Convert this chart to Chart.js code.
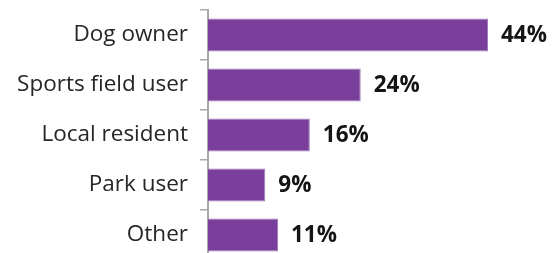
<!DOCTYPE html>
<html lang="en">
<head>
    <meta charset="UTF-8">
    <title>Who uses the park</title>
    <script src="https://cdn.jsdelivr.net/npm/chart.js"></script>
    <style>
        html, body { margin: 0; padding: 0; background: #fff; overflow: hidden; }
        .chart-box { position: relative; width: 559px; height: 263px; }
    </style>
</head>
<body>
    <div class="chart-box">
        <canvas id="userChart"></canvas>
    </div>

    <script>
        // Data
        const categories = ['Dog owner', 'Sports field user', 'Local resident', 'Park user', 'Other'];
        const shares = [44, 24, 16, 9, 11];

        // value labels at the end of each bar
        const valueLabels = {
            id: 'valueLabels',
            afterDatasetsDraw(chart) {
                const ctx = chart.ctx;
                ctx.save();
                ctx.font = 'bold 22.5px "Open Sans", sans-serif';
                ctx.fillStyle = '#151515';
                ctx.textBaseline = 'middle';
                chart.getDatasetMeta(0).data.forEach((bar, i) => {
                    ctx.fillText(shares[i] + '%', bar.x + 13, bar.y + 1);
                });
                ctx.restore();
            }
        };

        const ctx = document.getElementById('userChart').getContext('2d');
        new Chart(ctx, {
            type: 'bar',
            data: {
                labels: categories,
                datasets: [{
                    data: shares,
                    backgroundColor: '#7a3e9b',
                    borderColor: '#a07cb8',
                    borderWidth: 1,
                    categoryPercentage: 1,
                    barPercentage: 0.66
                }]
            },
            options: {
                indexAxis: 'y',
                responsive: true,
                maintainAspectRatio: false,
                animation: false,
                layout: { padding: { top: 10, bottom: 3, right: 1, left: 0 } },
                plugins: {
                    legend: { display: false },
                    tooltip: { enabled: false }
                },
                scales: {
                    x: {
                        display: false,
                        min: 0,
                        max: 55
                    },
                    y: {
                        afterFit(scale) {
                            scale.width = 208;
                            // no extra room for half label heights
                            scale.paddingTop = 0;
                            scale.paddingBottom = 0;
                        },
                        border: { color: '#a8a8a8', width: 2 },
                        grid: {
                            drawOnChartArea: false,
                            color: '#a8a8a8',
                            lineWidth: 1.5,
                            tickLength: 8
                        },
                        ticks: {
                            color: '#262626',
                            padding: 12,
                            font: { family: '"Open Sans", sans-serif', size: 22.5 }
                        }
                    }
                }
            },
            plugins: [valueLabels]
        });
    </script>
</body>
</html>
